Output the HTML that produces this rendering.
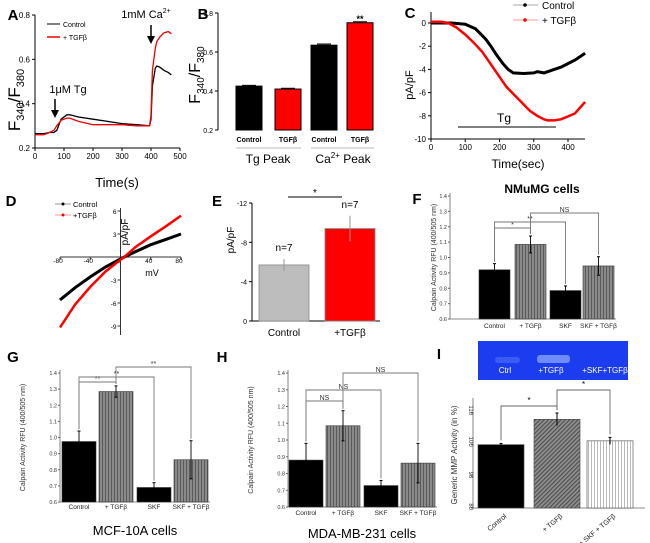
<!DOCTYPE html>
<html><head><meta charset="utf-8"><style>
html,body{margin:0;padding:0;background:#fff;}
svg{display:block;font-family:"Liberation Sans",sans-serif;}
</style></head><body>
<svg id="fig" width="650" height="543" viewBox="0 0 650 543" xmlns="http://www.w3.org/2000/svg">
<defs>
<pattern id="vstripe" width="3" height="4" patternUnits="userSpaceOnUse"><rect width="3" height="4" fill="#8a8a8a"/><rect width="1" height="4" fill="#5a5a5a"/></pattern>
<pattern id="dhatch" width="3" height="3" patternUnits="userSpaceOnUse" patternTransform="rotate(45)"><rect width="3" height="3" fill="#909090"/><rect width="1.2" height="3" fill="#505050"/></pattern>
<pattern id="wstripe" width="3" height="4" patternUnits="userSpaceOnUse"><rect width="3" height="4" fill="#fff"/><rect width="0.8" height="4" fill="#aaa"/></pattern>
</defs>
<g id="root"></g>
</svg>
<script>
// ---------- data ----------
const aTimes = [0,30,50,65,75,90,110,120,150,200,250,300,350,395,400,405,415,420,430,445,460,470];
const aControl = [0.265,0.265,0.27,0.27,0.28,0.33,0.35,0.35,0.34,0.33,0.32,0.31,0.305,0.30,0.33,0.48,0.56,0.57,0.565,0.55,0.54,0.53];
const aTGF = [0.26,0.26,0.27,0.28,0.30,0.325,0.335,0.335,0.32,0.305,0.305,0.305,0.30,0.30,0.35,0.55,0.65,0.68,0.70,0.72,0.725,0.715];
const aYTicks = [0.2,0.4,0.6,0.8];
const aXTicks = [0,100,200,300,400,500];

const bLabels = ["Control","TGFβ","Control","TGFβ"];
const bValues = [0.425,0.41,0.635,0.75];
const bErrors = [0.004,0.004,0.006,0.005];
const bYTicks = [0.2,0.4,0.6,0.8];

const cTimes = [0,30,60,100,130,160,175,190,210,225,240,270,300,310,330,350,380,420,450];
const cControl = [0,0,0,-0.1,-0.5,-1.4,-2.0,-2.7,-3.5,-4.0,-4.3,-4.35,-4.3,-4.2,-4.3,-4.1,-3.8,-3.2,-2.6];
const cTimesT = [0,30,50,75,100,125,150,185,220,250,270,290,310,330,340,360,380,420,450];
const cTGF = [0.1,0.1,0,-0.4,-1.0,-1.7,-2.5,-4.0,-5.5,-6.4,-7.0,-7.6,-8.0,-8.3,-8.4,-8.4,-8.3,-7.8,-6.8];
const cYTicks = [0,-2,-4,-6,-8,-10];
const cXTicks = [0,100,200,300,400];

const dVolt = [-80,-60,-40,-20,0,5,20,40,60,80];
const dControl = [-5.6,-4.0,-2.6,-1.3,-0.25,0,0.7,1.6,2.3,3.0];
const dTGF = [-9.2,-6.2,-3.9,-1.9,-0.35,0,1.3,2.7,4.0,5.4];
const dXTicks = [-80,-40,0,40,80];
const dYTicks = [6,3,0,-3,-6,-9];

const eLabels = ["Control","+TGFβ"];
const eValues = [5.7,9.4];
const eErrors = [0.6,1.3];
const eYTicks = [0,-4,-8,-12];

const calLabels = ["Control","+ TGFβ","SKF","SKF + TGFβ"];
const fValues = [0.92,1.085,0.785,0.945];
const fErrors = [0.04,0.055,0.03,0.06];
const gValues = [0.975,1.285,0.69,0.862];
const gErrors = [0.065,0.035,0.03,0.118];
const hValues = [0.88,1.085,0.728,0.862];
const hErrors = [0.1,0.09,0.03,0.118];
const calYTicks = [0.6,0.7,0.8,0.9,1.0,1.1,1.2,1.3,1.4];

const iLabels = ["Control","+ TGFβ","+ SKF + TGFβ"];
const iValues = [100,108,101.2];
const iErrors = [0.4,2,1.1];
const iYTicks = [80,90,100,110];

// ---------- helpers ----------
const NS="http://www.w3.org/2000/svg";
const root=document.getElementById('root');
function mk(tag,attrs,parent){const e=document.createElementNS(NS,tag);for(const k in attrs)e.setAttribute(k,attrs[k]);(parent||root).appendChild(e);return e;}
function txt(s,x,y,size,opts,parent){opts=opts||{};const e=mk('text',{x:x,y:y,'font-size':size,'text-anchor':opts.anchor||'middle',fill:opts.fill||'#000','font-weight':opts.weight||'normal'},parent);if(opts.rot)e.setAttribute('transform','rotate('+opts.rot+' '+x+' '+y+')');e.textContent=s;return e;}
function lin(d0,d1,r0,r1){return v=>r0+(v-d0)*(r1-r0)/(d1-d0);}
function pathOf(xs,ys,sx,sy){return xs.map((v,i)=>(i?'L':'M')+sx(v).toFixed(1)+' '+sy(ys[i]).toFixed(1)).join(' ');}
function label(s,x,y){const t=txt(s,x,y,15,{weight:'bold'});}

// ---------- Panel A ----------
label('A',13,20);
{
const g=mk('g',{});
const sx=lin(0,500,35,180), sy=lin(0.2,0.8,148,15);
const ax=mk('path',{d:'M35 15 V148 H180',stroke:'#000','stroke-width':1,fill:'none'},g);

aYTicks.forEach(v=>{mk('line',{x1:32,x2:35,y1:sy(v),y2:sy(v),stroke:'#000'},g);const t=txt(v.toFixed(1),30,sy(v)+3,8,{anchor:'end'},g);});
aXTicks.forEach(v=>{mk('line',{x1:sx(v),x2:sx(v),y1:148,y2:151,stroke:'#000'},g);const t=txt(String(v),sx(v),159,8,{},g);});
const l1=mk('path',{d:pathOf(aTimes,aControl,sx,sy),stroke:'#000','stroke-width':1.3,fill:'none'},g);

const l2=mk('path',{d:pathOf(aTimes,aTGF,sx,sy),stroke:'#e00','stroke-width':1.3,fill:'none'},g);

mk('line',{x1:47,x2:60,y1:24,y2:24,stroke:'#000'},g);txt('Control',63,27,7,{anchor:'start'},g);
mk('line',{x1:47,x2:60,y1:37,y2:37,stroke:'#e00','stroke-width':1.5},g);txt('+ TGFβ',63,40,7,{anchor:'start'},g);
txt('1μM Tg',68,93,11,{},g);
mk('path',{d:'M55 99 V112',stroke:'#000','stroke-width':1.5},g);mk('path',{d:'M51 110 L55 118 L59 110 Z',fill:'#000'},g);
const ca=txt('1mM Ca',146,18,11,{},g);const sup=mk('tspan',{dy:-5,'font-size':7},ca);sup.textContent='2+';
mk('path',{d:'M151 25 V38',stroke:'#000','stroke-width':1.5},g);mk('path',{d:'M147 36 L151 44 L155 36 Z',fill:'#000'},g);
const yl=mk('text',{x:20,y:100,'font-size':17,'text-anchor':'middle',transform:'rotate(-90 20 100)'},g);
yl.innerHTML='F<tspan font-size="11" dy="4">340</tspan><tspan dy="-4">/F</tspan><tspan font-size="11" dy="4">380</tspan>';

const xl=txt('Time(s)',117,187,13,{},g);
}

// ---------- Panel B ----------
label('B',203,19);
{
const g=mk('g',{});
const sy=lin(0.2,0.8,130,13);
const lefts=[236,275,311,347], w=26;
mk('path',{d:'M218 13 V130',stroke:'#000','stroke-width':1,fill:'none'},g);
bYTicks.forEach(v=>{mk('line',{x1:215,x2:218,y1:sy(v),y2:sy(v),stroke:'#000'},g);const t=txt(v.toFixed(1),213,sy(v)+3,7,{anchor:'end'},g);});
bValues.forEach((v,i)=>{
 const r=mk('rect',{x:lefts[i],y:sy(v),width:w,height:130-sy(v),fill:(i%2)?'#f00':'#000',stroke:'#000','stroke-width':1},g);
 
 mk('line',{x1:lefts[i]+6,x2:lefts[i]+w-6,y1:sy(v+bErrors[i]),y2:sy(v+bErrors[i]),stroke:'#000','stroke-width':1},g);
 const t=txt(bLabels[i],lefts[i]+w/2,142,7,{weight:'bold'},g);
});
mk('line',{x1:236,x2:301,y1:148,y2:148,stroke:'#bbb'},g);mk('line',{x1:311,x2:374,y1:148,y2:148,stroke:'#bbb'},g);
txt('Tg Peak',268,163,12,{},g);
const cp=txt('Ca',343,163,12,{},g);const s2=mk('tspan',{dy:-5,'font-size':8},cp);s2.textContent='2+';const s3=mk('tspan',{dy:5},cp);s3.textContent=' Peak';
txt('**',360,22,9,{weight:'bold'},g);
const yl=mk('text',{x:200,y:75,'font-size':16,'text-anchor':'middle',transform:'rotate(-90 200 75)'},g);
yl.innerHTML='F<tspan font-size="10" dy="4">340</tspan><tspan dy="-4">/F</tspan><tspan font-size="10" dy="4">380</tspan>';

}

// ---------- Panel C ----------
label('C',410,18);
{
const g=mk('g',{});
const sx=lin(0,400,431,568), sy=lin(0,-10,23,139);
mk('path',{d:'M431 12 V139 H585',stroke:'#000','stroke-width':1,fill:'none'},g);
cYTicks.forEach(v=>{mk('line',{x1:428,x2:431,y1:sy(v),y2:sy(v),stroke:'#000'},g);const t=txt(String(v),426,sy(v)+3,8,{anchor:'end'},g);});
cXTicks.forEach(v=>{mk('line',{x1:sx(v),x2:sx(v),y1:139,y2:142,stroke:'#000'},g);const t=txt(String(v),sx(v),150,8,{},g);});
const l1=mk('path',{d:pathOf(cTimes,cControl,sx,sy),stroke:'#000','stroke-width':3,fill:'none'},g);

const l2=mk('path',{d:pathOf(cTimesT,cTGF,sx,sy),stroke:'#f00','stroke-width':2.5,fill:'none'},g);

mk('line',{x1:513,x2:538,y1:5,y2:5,stroke:'#aaa'},g);mk('circle',{cx:525,cy:5,r:1.8,fill:'#000'},g);txt('Control',542,9,10,{anchor:'start'},g);
mk('line',{x1:513,x2:538,y1:20,y2:20,stroke:'#f99'},g);mk('circle',{cx:525,cy:20,r:1.8,fill:'#f00'},g);txt('+ TGFβ',542,24,10,{anchor:'start'},g);
mk('line',{x1:458,x2:556,y1:127,y2:127,stroke:'#333','stroke-width':1.3},g);
txt('Tg',504,122,12,{},g);
txt('Time(sec)',518,168,12,{},g);
txt('pA/pF',413,85,11,{rot:-90},g);
}

// ---------- Panel D ----------
label('D',11,206);
{
const g=mk('g',{});
const sx=lin(-80,80,60,181), sy=lin(0,6,257,211);
mk('line',{x1:60,x2:181,y1:257,y2:257,stroke:'#333'},g);
mk('line',{x1:sx(0),x2:sx(0),y1:208,y2:335,stroke:'#333'},g);
dXTicks.forEach(v=>{mk('line',{x1:sx(v),x2:sx(v),y1:257,y2:260,stroke:'#333'},g);const t=txt(String(v),sx(v)-2,263,6.5,{},g);});
dYTicks.forEach(v=>{mk('line',{x1:sx(0)-3,x2:sx(0),y1:sy(v),y2:sy(v),stroke:'#333'},g);if(v!==0){const t=txt(String(v),sx(0)-4,sy(v)+3,6.5,{anchor:'end'},g);}});
const l1=mk('path',{d:pathOf(dVolt,dControl,sx,sy),stroke:'#000','stroke-width':3,fill:'none'},g);

const l2=mk('path',{d:pathOf(dVolt,dTGF,sx,sy),stroke:'#f00','stroke-width':2.5,fill:'none'},g);

mk('line',{x1:55,x2:71,y1:204,y2:204,stroke:'#999'},g);mk('circle',{cx:63,cy:204,r:1.5,fill:'#000'},g);txt('Control',73,207,7.5,{anchor:'start'},g);
mk('line',{x1:55,x2:71,y1:215,y2:215,stroke:'#f99'},g);mk('circle',{cx:63,cy:215,r:1.5,fill:'#f00'},g);txt('+TGFβ',73,218,7.5,{anchor:'start'},g);
txt('pA/pF',128,232,10,{rot:-90},g);
txt('mV',152,276,9,{},g);
}

// ---------- Panel E ----------
label('E',217,206);
{
const g=mk('g',{});
const sy=lin(0,12,321,203);
const lefts=[259,325], w=50, fills=['#bdbdbd','#f00'];
mk('path',{d:'M252 203 V321 H380',stroke:'#000','stroke-width':1,fill:'none'},g);
eYTicks.forEach(v=>{mk('line',{x1:249,x2:252,y1:sy(-v),y2:sy(-v),stroke:'#000'},g);const t=txt(String(v),247,sy(-v)+3,7,{anchor:'end'},g);});
eValues.forEach((v,i)=>{
 const r=mk('rect',{x:lefts[i],y:sy(v),width:w,height:321-sy(v),fill:fills[i],stroke:'#888','stroke-width':0.8},g);
 
 const c=lefts[i]+w/2;
 mk('line',{x1:c,x2:c,y1:sy(v+eErrors[i]),y2:sy(v-eErrors[i]),stroke:'#999'},g);
 txt('n=7',c,sy(v+eErrors[i])-8,10,{},g);
 const t=txt(eLabels[i],c,336,10,{},g);
});
mk('line',{x1:288,x2:342,y1:197,y2:197,stroke:'#000'},g);txt('*',315,196,10,{},g);
txt('pA/pF',234,240,10,{rot:-90},g);
}

// ---------- Calpain bar panels ----------
function calPanel(id,values,errors,ax,y0,y1,lefts,w,labY,brackets,ylabX){
 const g=mk('g',{});
 const sy=lin(0.6,1.4,y0,y1);
 const right=lefts[3]+w+2;
 mk('path',{d:'M'+ax+' '+(y1-3)+' V'+y0+' H'+right,stroke:'#666','stroke-width':0.8,fill:'none'},g);
 calYTicks.forEach(v=>{mk('line',{x1:ax-2,x2:ax,y1:sy(v),y2:sy(v),stroke:'#666'},g);const t=txt(v.toFixed(1),ax-3,sy(v)+2,5.5,{anchor:'end',fill:'#333'},g);});
 const fills=['#000','url(#vstripe)','#000','url(#vstripe)'];
 const tops=[];
 values.forEach((v,i)=>{
  const r=mk('rect',{x:lefts[i],y:sy(v),width:w,height:y0-sy(v),fill:fills[i],stroke:'#333','stroke-width':0.6},g);
  
  const c=lefts[i]+w/2, e=errors[i];
  mk('line',{x1:c,x2:c,y1:sy(v+e),y2:sy(v-e),stroke:'#000','stroke-width':0.9},g);
  mk('line',{x1:c-1.5,x2:c+1.5,y1:sy(v+e),y2:sy(v+e),stroke:'#000'},g);
  mk('line',{x1:c-1.5,x2:c+1.5,y1:sy(v-e),y2:sy(v-e),stroke:'#000'},g);
  tops.push(sy(v+e));
  const t=txt(calLabels[i],c,labY,6.5,{fill:'#222'},g);
 });
 brackets.forEach(b=>{
  const ca=lefts[b[0]]+w/2, cb=lefts[b[1]]+w/2;
  const p=mk('path',{d:'M'+ca+' '+(tops[b[0]]-2)+' V'+b[2]+' H'+cb+' V'+(tops[b[1]]-2),stroke:'#777','stroke-width':0.9,fill:'none'},g);
  
  txt(b[3],(ca+cb)/2,b[2]-1,7,{fill:'#333'},g);
 });
 const yl=txt('Calpain Activity RFU (400/505 nm)',ylabX,(y0+y1)/2,7,{rot:-90,fill:'#333'},g);
 
}
label('F',417,204);
const nm=txt('NMuMG cells',542,193,12,{weight:'bold'});
calPanel('f',fValues,fErrors,450,319,196,[479,515,550,583],31,328,[[0,1,228,'*'],[0,2,222,'**'],[1,3,213,'NS']],436);
label('G',13,362);
calPanel('g',gValues,gErrors,60,502,373,[62,99,137,174],34,509,[[0,1,382,'**'],[0,2,377,'**'],[1,3,367,'**']],25);
txt('MCF-10A cells',135,535,13);
label('H',222,362);
calPanel('h',hValues,hErrors,288,507,373,[289,326,364,401],34,515,[[0,1,401,'NS'],[0,2,390,'NS'],[1,3,373,'NS']],253);
txt('MDA-MB-231 cells',362,538,13);

// ---------- Panel I ----------
label('I',439,359);
{
const g=mk('g',{});
const gel=mk('rect',{x:478,y:341,width:150,height:39,fill:'#1c3cf0'},g);

mk('rect',{x:495,y:357,width:25,height:6,fill:'#3a5cf5',rx:3},g);
mk('rect',{x:537,y:355,width:33,height:8,fill:'#6f8cff',rx:3},g);
txt('Ctrl',505,373,8,{fill:'#fff'},g);txt('+TGFβ',551,373,8,{fill:'#fff'},g);txt('+SKF+TGFβ',605,373,8,{fill:'#fff'},g);
const sy=lin(80,110,508,413);
const lefts=[478,534,587], w=46, fills=['#000','url(#dhatch)','url(#wstripe)'];
mk('path',{d:'M473 398 V508 H645',stroke:'#666','stroke-width':0.8,fill:'none'},g);
iYTicks.forEach(v=>{mk('line',{x1:471,x2:473,y1:sy(v),y2:sy(v),stroke:'#666'},g);const t=txt(String(v),469,sy(v)+2,6,{anchor:'end',fill:'#333',rot:90},g);});
const tops=[];
iValues.forEach((v,i)=>{
 const r=mk('rect',{x:lefts[i],y:sy(v),width:w,height:508-sy(v),fill:fills[i],stroke:'#444','stroke-width':0.6},g);
 
 const c=lefts[i]+w/2,e=iErrors[i];
 mk('line',{x1:c,x2:c,y1:sy(v+e),y2:sy(v-e),stroke:'#000'},g);
 mk('line',{x1:c-1.5,x2:c+1.5,y1:sy(v+e),y2:sy(v+e),stroke:'#000'},g);
 tops.push(sy(v+e));
 const t=txt(iLabels[i],c+6,517,7,{anchor:'end',rot:-40,fill:'#222'},g);
});
const br=[[0,1,406],[1,2,390]];
br.forEach(b=>{const ca=lefts[b[0]]+w/2,cb=lefts[b[1]]+w/2;
 const p=mk('path',{d:'M'+ca+' '+(tops[b[0]]-3)+' V'+b[2]+' H'+cb+' V'+(tops[b[1]]-3),stroke:'#666','stroke-width':0.9,fill:'none'},g);
 
 txt('*',(ca+cb)/2,b[2]-3,8,{},g);});
const yl=txt('Generic MMP Activity (in %)',457,455,8,{rot:-90,fill:'#333'},g);

}
</script>
</body></html>
